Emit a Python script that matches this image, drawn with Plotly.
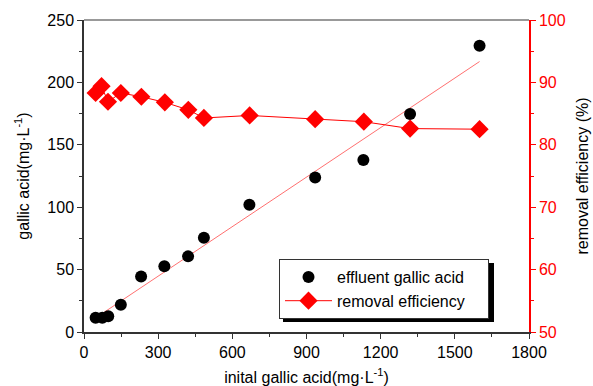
import plotly.graph_objects as go

# Data
initial_x = [47, 74, 98, 149, 231, 325, 421, 485, 669, 935, 1130, 1319, 1600]
effluent = [11.4, 11.4, 12.6, 21.8, 44.4, 52.6, 60.6, 75.6, 102, 123.8, 137.8, 174.6, 229.4]

eff_x = [47, 71, 97, 149, 232, 327, 422, 485, 670, 935, 1132, 1319, 1600]
removal = [88.3, 89.4, 86.9, 88.3, 87.7, 86.8, 85.6, 84.3, 84.7, 84.1, 83.7, 82.6, 82.5]

fit_x = [54, 1600]
fit_y = [12.2, 216.7]

x_ticks = [0, 300, 600, 900, 1200, 1500, 1800]
y_ticks = [0, 50, 100, 150, 200, 250]
y2_ticks = [50, 60, 70, 80, 90, 100]

RED = "#ff0000"
FONT = "Liberation Sans, Arial, sans-serif"
PAD = "\u00a0" * 4

fig = go.Figure()
fig.add_trace(go.Scatter(x=fit_x, y=fit_y, mode="lines",
                         line=dict(color="#ff7070", width=1),
                         showlegend=False, hoverinfo="skip"))
fig.add_trace(go.Scatter(x=initial_x, y=effluent, mode="markers",
                         name="effluent gallic acid" + PAD,
                         marker=dict(symbol="circle", size=12, color="black")))
fig.add_trace(go.Scatter(x=eff_x, y=removal, mode="lines+markers",
                         name="removal efficiency" + PAD, yaxis="y2",
                         line=dict(color=RED, width=1),
                         marker=dict(symbol="diamond", size=14, color=RED)))

L, R, T, B = 84, 64, 20, 54
W, H = 593, 386
PW, PH = W - L - R, H - T - B

def px_x(p):
    return (p - L) / PW

def px_y(p):
    return (H - B - p) / PH

fig.update_layout(
    width=W, height=H,
    margin=dict(l=L, r=R, t=T, b=B, autoexpand=False),
    paper_bgcolor="white", plot_bgcolor="white",
    font=dict(family=FONT, size=16, color="black"),
    xaxis=dict(range=[0, 1800], tickvals=x_ticks, showgrid=False, zeroline=False,
               automargin=False,
               showline=True, linecolor="#333333", linewidth=1.5,
               ticks="outside", ticklen=5, tickcolor="#333333",
               minor=dict(ticks="outside", ticklen=3, dtick=150, tickcolor="#333333"),
               title=dict(text="inital gallic acid(mg·L<sup>-1</sup>)", standoff=12,
                          font=dict(size=16))),
    yaxis=dict(range=[0, 250], tickvals=y_ticks, showgrid=False, zeroline=False,
               automargin=False,
               showline=True, linecolor="#333333", linewidth=1.5,
               ticks="outside", ticklen=5, tickcolor="#333333",
               minor=dict(ticks="outside", ticklen=3, dtick=25, tickcolor="#333333"),
               title=dict(text="gallic acid(mg·L<sup>-1</sup>)", standoff=14,
                          font=dict(size=16))),
    yaxis2=dict(range=[50, 100], tickvals=y2_ticks, overlaying="y", side="right",
                showgrid=False, zeroline=False, automargin=False,
                showline=True, linecolor=RED, linewidth=1.5,
                ticks="outside", ticklen=5, tickcolor=RED,
                tickfont=dict(color=RED),
                minor=dict(ticks="outside", ticklen=3, dtick=5, tickcolor=RED),
                title=dict(text="removal efficiency (%)", standoff=12,
                           font=dict(size=16, color="black"))),
    legend=dict(x=px_x(279), y=px_y(259),
                xanchor="left", yanchor="top",
                bgcolor="white", bordercolor="#333333", borderwidth=1,
                font=dict(size=16), itemwidth=47, tracegroupgap=0),
    shapes=[
        dict(type="line", xref="paper", yref="paper", x0=0, x1=1, y0=1, y1=1,
             line=dict(color="#777777", width=1.5)),
        dict(type="rect", xref="paper", yref="paper", x0=px_x(283), x1=px_x(494),
             y0=px_y(322), y1=px_y(263),
             fillcolor="black", line=dict(width=0), layer="above"),
    ],
)

fig.write_html("out.html", config={"displayModeBar": False},
               post_script="document.body.style.margin='0';")
